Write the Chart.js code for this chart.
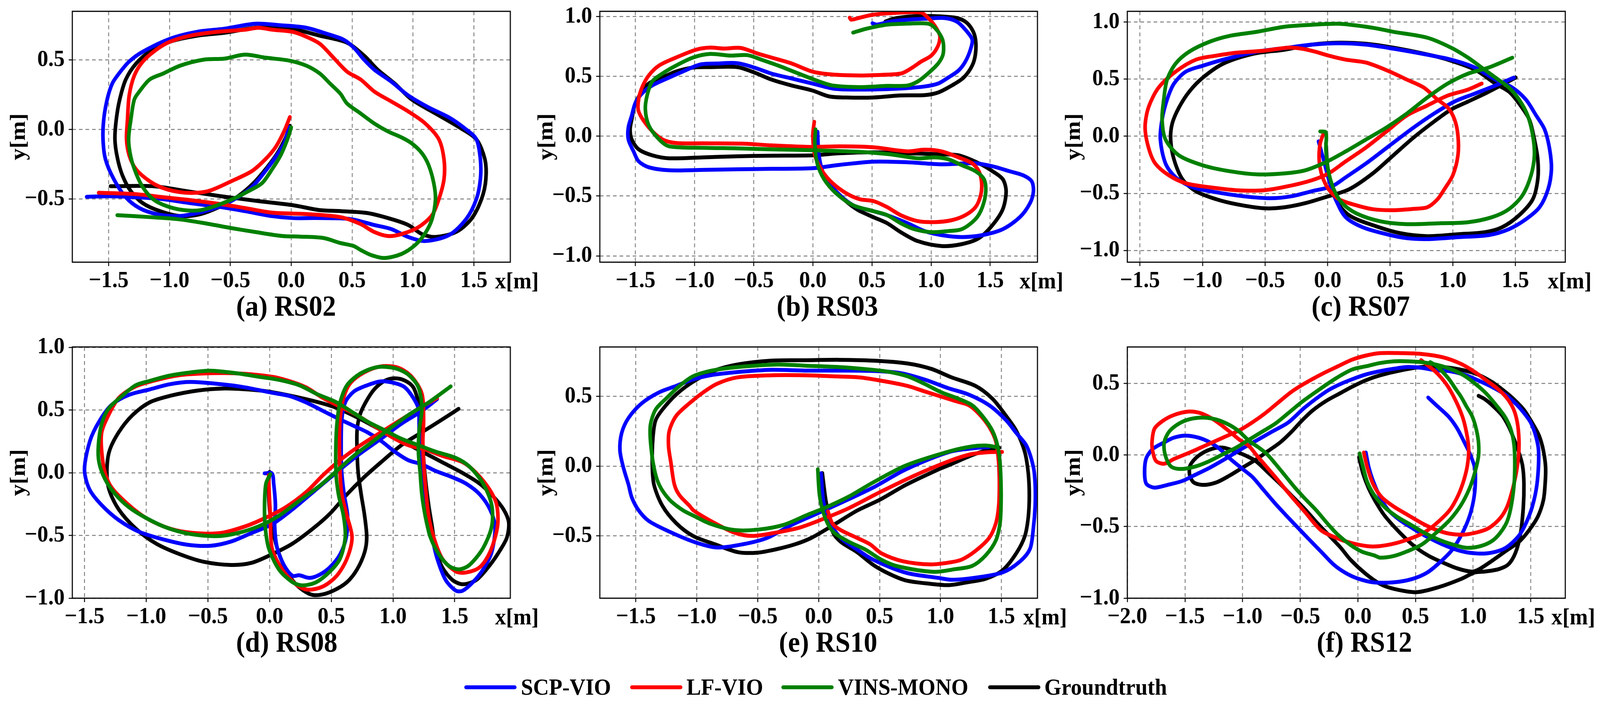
<!DOCTYPE html>
<html>
<head>
<meta charset="utf-8">
<script src="https://cdn.jsdelivr.net/npm/chart.js@4.4.1/dist/chart.umd.min.js"></script>
<style>
  html, body { margin:0; padding:0; background:#ffffff; overflow:hidden; }
  #fig { position:absolute; left:0; top:0; width:4380px; height:1812px; overflow:hidden; background:#fff;
         transform-origin:0 0;
         font-family:'Liberation Serif','Times New Roman',serif; font-weight:bold; color:#000; }
  #fig canvas { position:absolute; }
  .txt { position:absolute; white-space:nowrap; line-height:1; }
  .ttl { font-size:74px; transform:translateX(-50%); }
  .xl { font-size:60px; }
  .lg { font-size:60px; }
  .sw { position:absolute; height:10px; border-radius:5px; }
</style>
</head>
<body>
<div id="fig"></div>
<script>
// ---------------- series names / tick labels ----------------
const SERIES_NAMES = ['SCP-VIO', 'LF-VIO', 'VINS-MONO', 'Groundtruth'];
const PANEL_TITLES = ['(a) RS02', '(b) RS03', '(c) RS07', '(d) RS08', '(e) RS10', '(f) RS12'];
const X_TICKS_STD = [-1.5, -1.0, -0.5, 0.0, 0.5, 1.0, 1.5];
const X_TICKS_F = [-2.0, -1.5, -1.0, -0.5, 0.0, 0.5, 1.0, 1.5];
const Y_TICKS_HALF = [-0.5, 0.0, 0.5];
const Y_TICKS_ONE = [-1.0, -0.5, 0.0, 0.5, 1.0];
const Y_TICKS_F = [-1.0, -0.5, 0.0, 0.5];
const X_LABEL = 'x[m]';
const Y_LABEL = 'y[m]';

// ---------------- (a) RS02 : [x, y] in metres ----------------
const RS02_SCP = [[-0.017,0.019],[-0.059,-0.099],[-0.129,-0.199],[-0.226,-0.314],[-0.324,-0.414],[-0.464,-0.500],[-0.604,-0.557],[-0.772,-0.600],[-0.939,-0.622],[-1.107,-0.607],[-1.247,-0.564],[-1.359,-0.486],[-1.457,-0.357],[-1.526,-0.213],[-1.546,-0.070],[-1.540,0.073],[-1.512,0.216],[-1.470,0.331],[-1.415,0.403],[-1.331,0.489],[-1.219,0.560],[-0.995,0.653],[-0.772,0.703],[-0.548,0.725],[-0.296,0.761],[-0.073,0.749],[0.123,0.732],[0.291,0.689],[0.431,0.646],[0.514,0.589],[0.598,0.503],[0.682,0.431],[0.822,0.345],[0.962,0.245],[1.129,0.159],[1.297,0.087],[1.437,0.001],[1.521,-0.070],[1.554,-0.213],[1.554,-0.357],[1.521,-0.500],[1.437,-0.643],[1.297,-0.758],[1.101,-0.801],[0.962,-0.772],[0.822,-0.715],[0.682,-0.686],[0.486,-0.643],[0.207,-0.636],[0.011,-0.636],[-0.157,-0.622],[-0.380,-0.586],[-0.576,-0.557],[-0.828,-0.529],[-1.051,-0.500],[-1.275,-0.486],[-1.498,-0.479],[-1.680,-0.483]];
const RS02_LF = [[-0.011,0.090],[-0.059,-0.013],[-0.129,-0.127],[-0.212,-0.213],[-0.324,-0.299],[-0.492,-0.371],[-0.660,-0.436],[-0.772,-0.454],[-0.911,-0.450],[-1.051,-0.421],[-1.163,-0.371],[-1.275,-0.285],[-1.331,-0.185],[-1.353,-0.070],[-1.345,0.073],[-1.331,0.245],[-1.289,0.388],[-1.219,0.489],[-1.107,0.575],[-0.995,0.632],[-0.828,0.675],[-0.604,0.703],[-0.380,0.718],[-0.268,0.732],[-0.157,0.718],[0.011,0.703],[0.123,0.668],[0.235,0.617],[0.347,0.517],[0.458,0.417],[0.570,0.360],[0.682,0.274],[0.822,0.202],[0.962,0.130],[1.101,0.044],[1.213,-0.070],[1.255,-0.213],[1.255,-0.357],[1.213,-0.500],[1.157,-0.615],[1.046,-0.701],[0.906,-0.751],[0.794,-0.765],[0.682,-0.736],[0.570,-0.679],[0.403,-0.629],[0.123,-0.607],[-0.157,-0.597],[-0.380,-0.564],[-0.576,-0.536],[-0.828,-0.507],[-1.051,-0.486],[-1.275,-0.464],[-1.582,-0.454]];
const RS02_VINS = [[0.000,0.016],[-0.031,-0.070],[-0.087,-0.185],[-0.157,-0.285],[-0.240,-0.385],[-0.352,-0.443],[-0.464,-0.493],[-0.604,-0.543],[-0.744,-0.579],[-0.883,-0.579],[-1.023,-0.550],[-1.135,-0.500],[-1.219,-0.414],[-1.275,-0.314],[-1.317,-0.199],[-1.336,-0.070],[-1.317,0.073],[-1.289,0.216],[-1.247,0.274],[-1.163,0.360],[-1.051,0.403],[-0.911,0.460],[-0.716,0.503],[-0.548,0.510],[-0.380,0.539],[-0.212,0.517],[-0.017,0.496],[0.123,0.460],[0.235,0.403],[0.319,0.331],[0.403,0.259],[0.458,0.188],[0.570,0.116],[0.682,0.044],[0.794,-0.013],[0.906,-0.056],[0.990,-0.099],[1.074,-0.170],[1.129,-0.256],[1.171,-0.385],[1.185,-0.500],[1.157,-0.643],[1.101,-0.744],[1.018,-0.830],[0.906,-0.894],[0.766,-0.923],[0.654,-0.901],[0.570,-0.865],[0.514,-0.837],[0.403,-0.815],[0.263,-0.779],[0.067,-0.769],[-0.073,-0.765],[-0.296,-0.736],[-0.492,-0.708],[-0.716,-0.672],[-0.939,-0.643],[-1.163,-0.629],[-1.429,-0.615]];
const RS02_GT = [[-0.011,0.027],[-0.045,-0.056],[-0.115,-0.171],[-0.198,-0.271],[-0.310,-0.385],[-0.436,-0.479],[-0.576,-0.550],[-0.744,-0.607],[-0.911,-0.622],[-1.079,-0.586],[-1.219,-0.529],[-1.317,-0.443],[-1.387,-0.328],[-1.429,-0.199],[-1.448,-0.070],[-1.437,0.073],[-1.409,0.216],[-1.359,0.360],[-1.275,0.474],[-1.163,0.560],[-0.995,0.632],[-0.772,0.675],[-0.548,0.696],[-0.296,0.732],[-0.101,0.732],[0.039,0.718],[0.235,0.675],[0.458,0.625],[0.598,0.532],[0.710,0.431],[0.850,0.331],[0.990,0.216],[1.185,0.116],[1.381,0.016],[1.521,-0.070],[1.591,-0.213],[1.599,-0.357],[1.563,-0.500],[1.479,-0.643],[1.353,-0.736],[1.185,-0.772],[1.074,-0.751],[0.962,-0.686],[0.822,-0.643],[0.626,-0.600],[0.403,-0.586],[0.235,-0.579],[0.011,-0.543],[-0.268,-0.514],[-0.576,-0.479],[-0.855,-0.443],[-1.135,-0.407],[-1.484,-0.407]];

// ---------------- (b) RS03 ----------------
const RS03_SCP = [[0.040,0.037],[0.052,-0.160],[0.095,-0.327],[0.196,-0.460],[0.340,-0.577],[0.513,-0.627],[0.628,-0.660],[0.800,-0.727],[0.944,-0.793],[1.088,-0.827],[1.261,-0.843],[1.434,-0.827],[1.607,-0.777],[1.751,-0.677],[1.837,-0.560],[1.866,-0.460],[1.851,-0.377],[1.779,-0.327],[1.664,-0.293],[1.520,-0.252],[1.376,-0.227],[1.088,-0.235],[0.800,-0.218],[0.513,-0.213],[0.225,-0.240],[0.000,-0.268],[-0.351,-0.273],[-0.639,-0.277],[-0.927,-0.282],[-1.215,-0.285],[-1.388,-0.260],[-1.474,-0.210],[-1.517,-0.127],[-1.561,-0.027],[-1.561,0.073],[-1.532,0.173],[-1.503,0.273],[-1.445,0.357],[-1.359,0.423],[-1.215,0.490],[-1.100,0.540],[-0.956,0.598],[-0.812,0.607],[-0.639,0.610],[-0.495,0.573],[-0.351,0.523],[-0.179,0.482],[-0.006,0.440],[0.167,0.398],[0.282,0.390],[0.513,0.390],[0.743,0.398],[0.944,0.415],[1.060,0.440],[1.146,0.490],[1.232,0.548],[1.290,0.623],[1.333,0.723],[1.348,0.807],[1.290,0.890],[1.218,0.957],[1.117,0.987],[0.973,0.982],[0.800,0.973],[0.656,0.957],[0.541,0.932],[0.504,0.943]];
const RS03_LF = [[0.012,0.120],[0.000,0.007],[0.017,-0.160],[0.081,-0.293],[0.167,-0.393],[0.282,-0.477],[0.397,-0.527],[0.513,-0.543],[0.628,-0.593],[0.743,-0.660],[0.887,-0.710],[1.031,-0.718],[1.175,-0.702],[1.290,-0.660],[1.376,-0.593],[1.420,-0.493],[1.428,-0.393],[1.405,-0.293],[1.348,-0.227],[1.232,-0.177],[1.088,-0.127],[0.944,-0.113],[0.800,-0.127],[0.513,-0.093],[0.225,-0.085],[0.000,-0.090],[-0.351,-0.077],[-0.582,-0.063],[-0.927,-0.060],[-1.158,-0.057],[-1.273,-0.027],[-1.388,0.073],[-1.474,0.207],[-1.474,0.307],[-1.445,0.407],[-1.388,0.507],[-1.301,0.590],[-1.157,0.657],[-0.985,0.723],[-0.870,0.740],[-0.754,0.732],[-0.610,0.737],[-0.466,0.690],[-0.351,0.657],[-0.179,0.607],[-0.006,0.540],[0.167,0.515],[0.397,0.507],[0.513,0.510],[0.743,0.523],[0.829,0.565],[0.916,0.623],[1.002,0.673],[1.060,0.757],[1.074,0.840],[1.031,0.923],[0.973,0.990],[0.916,1.032],[0.743,1.032],[0.513,1.015],[0.397,0.990],[0.325,0.973],[0.311,0.990]];
const RS03_VINS = [[0.023,0.057],[0.017,-0.060],[0.037,-0.227],[0.095,-0.360],[0.196,-0.477],[0.340,-0.577],[0.513,-0.627],[0.628,-0.660],[0.743,-0.727],[0.858,-0.777],[1.002,-0.802],[1.146,-0.793],[1.261,-0.777],[1.376,-0.693],[1.434,-0.593],[1.463,-0.460],[1.448,-0.360],[1.376,-0.293],[1.261,-0.243],[1.146,-0.193],[1.031,-0.177],[0.887,-0.185],[0.656,-0.152],[0.369,-0.130],[0.000,-0.118],[-0.351,-0.110],[-0.639,-0.102],[-0.927,-0.097],[-1.215,-0.085],[-1.301,-0.027],[-1.388,0.090],[-1.417,0.223],[-1.402,0.340],[-1.359,0.457],[-1.273,0.523],[-1.157,0.590],[-1.014,0.657],[-0.870,0.687],[-0.697,0.673],[-0.553,0.677],[-0.438,0.640],[-0.294,0.590],[-0.121,0.523],[0.052,0.457],[0.167,0.423],[0.397,0.410],[0.628,0.420],[0.800,0.423],[0.887,0.457],[0.973,0.523],[1.060,0.607],[1.103,0.690],[1.097,0.807],[1.031,0.907],[0.973,0.940],[0.800,0.940],[0.628,0.932],[0.455,0.898],[0.340,0.865]];
const RS03_GT = [[0.029,0.007],[0.052,-0.193],[0.109,-0.360],[0.225,-0.493],[0.369,-0.610],[0.513,-0.677],[0.628,-0.727],[0.743,-0.802],[0.887,-0.877],[1.088,-0.918],[1.261,-0.902],[1.405,-0.852],[1.520,-0.743],[1.607,-0.610],[1.635,-0.460],[1.607,-0.360],[1.520,-0.293],[1.405,-0.227],[1.232,-0.160],[1.088,-0.152],[0.800,-0.143],[0.513,-0.135],[0.225,-0.143],[0.000,-0.160],[-0.351,-0.163],[-0.639,-0.168],[-0.927,-0.177],[-1.215,-0.185],[-1.359,-0.160],[-1.474,-0.110],[-1.532,-0.027],[-1.546,0.057],[-1.532,0.140],[-1.503,0.273],[-1.445,0.373],[-1.388,0.440],[-1.273,0.490],[-1.157,0.540],[-1.014,0.573],[-0.870,0.577],[-0.639,0.577],[-0.495,0.532],[-0.351,0.473],[-0.179,0.423],[-0.006,0.382],[0.138,0.332],[0.282,0.323],[0.513,0.323],[0.743,0.340],[0.944,0.343],[1.060,0.365],[1.175,0.423],[1.276,0.490],[1.348,0.590],[1.376,0.690],[1.376,0.807],[1.348,0.890],[1.290,0.957],[1.204,0.990],[1.031,1.003],[0.858,1.003],[0.685,0.982],[0.613,0.957]];

// ---------------- (c) RS07 ----------------
const RS07_SCP = [[-0.073,-0.045],[-0.033,-0.203],[0.008,-0.377],[0.063,-0.552],[0.144,-0.709],[0.280,-0.797],[0.470,-0.858],[0.633,-0.893],[0.796,-0.901],[1.041,-0.884],[1.285,-0.866],[1.448,-0.814],[1.584,-0.727],[1.693,-0.622],[1.761,-0.465],[1.788,-0.290],[1.774,-0.115],[1.734,0.059],[1.666,0.182],[1.584,0.321],[1.476,0.426],[1.340,0.496],[1.177,0.601],[0.986,0.671],[0.796,0.714],[0.524,0.767],[0.307,0.802],[0.090,0.814],[-0.128,0.802],[-0.318,0.776],[-0.563,0.741],[-0.834,0.671],[-0.997,0.618],[-1.133,0.566],[-1.228,0.461],[-1.283,0.321],[-1.323,0.147],[-1.337,-0.028],[-1.296,-0.238],[-1.215,-0.360],[-1.079,-0.447],[-0.889,-0.491],[-0.671,-0.526],[-0.454,-0.543],[-0.291,-0.526],[-0.128,-0.482],[0.035,-0.438],[0.144,-0.360],[0.307,-0.238],[0.497,-0.080],[0.688,0.077],[0.851,0.199],[1.014,0.304],[1.177,0.374],[1.340,0.444],[1.489,0.514]];
const RS07_LF = [[-0.033,0.024],[-0.060,-0.063],[-0.068,-0.203],[-0.046,-0.342],[0.008,-0.465],[0.090,-0.552],[0.226,-0.604],[0.361,-0.639],[0.524,-0.648],[0.688,-0.636],[0.796,-0.622],[0.878,-0.552],[0.932,-0.465],[1.000,-0.342],[1.041,-0.168],[1.041,0.007],[1.014,0.147],[0.959,0.252],[0.878,0.321],[0.769,0.426],[0.633,0.496],[0.497,0.566],[0.307,0.645],[0.144,0.671],[0.008,0.706],[-0.101,0.741],[-0.209,0.767],[-0.318,0.776],[-0.508,0.749],[-0.726,0.732],[-0.889,0.706],[-1.052,0.671],[-1.215,0.566],[-1.351,0.426],[-1.432,0.252],[-1.459,0.077],[-1.432,-0.098],[-1.378,-0.238],[-1.269,-0.342],[-1.133,-0.412],[-0.943,-0.447],[-0.726,-0.473],[-0.508,-0.473],[-0.318,-0.438],[-0.128,-0.386],[0.008,-0.325],[0.144,-0.220],[0.307,-0.098],[0.470,0.042],[0.633,0.182],[0.796,0.269],[0.959,0.356],[1.122,0.409],[1.231,0.461]];
const RS07_VINS = [[-0.060,0.042],[-0.014,0.033],[-0.014,-0.115],[0.003,-0.290],[0.049,-0.465],[0.117,-0.587],[0.226,-0.674],[0.416,-0.744],[0.633,-0.770],[0.905,-0.762],[1.122,-0.753],[1.313,-0.709],[1.448,-0.639],[1.557,-0.517],[1.625,-0.342],[1.652,-0.168],[1.639,0.007],[1.598,0.182],[1.530,0.321],[1.448,0.426],[1.340,0.514],[1.231,0.601],[1.122,0.688],[0.986,0.776],[0.796,0.863],[0.524,0.915],[0.361,0.950],[0.090,0.985],[-0.128,0.976],[-0.345,0.959],[-0.563,0.915],[-0.780,0.880],[-0.943,0.828],[-1.106,0.741],[-1.215,0.636],[-1.283,0.496],[-1.310,0.321],[-1.323,0.147],[-1.296,-0.028],[-1.188,-0.168],[-0.997,-0.255],[-0.780,-0.307],[-0.563,-0.334],[-0.345,-0.325],[-0.182,-0.299],[-0.019,-0.229],[0.144,-0.133],[0.307,-0.028],[0.470,0.077],[0.633,0.199],[0.796,0.339],[0.959,0.461],[1.122,0.548],[1.285,0.601],[1.476,0.688]];
const RS07_GT = [[-0.014,-0.063],[0.003,-0.290],[0.063,-0.552],[0.171,-0.692],[0.361,-0.779],[0.579,-0.849],[0.796,-0.875],[1.041,-0.858],[1.258,-0.840],[1.394,-0.797],[1.530,-0.692],[1.639,-0.552],[1.679,-0.377],[1.679,-0.203],[1.652,-0.028],[1.611,0.147],[1.530,0.286],[1.448,0.391],[1.340,0.461],[1.177,0.583],[0.959,0.671],[0.769,0.723],[0.524,0.776],[0.307,0.810],[0.090,0.819],[-0.128,0.802],[-0.345,0.758],[-0.590,0.723],[-0.834,0.636],[-0.997,0.514],[-1.106,0.391],[-1.188,0.252],[-1.242,0.112],[-1.255,-0.028],[-1.228,-0.203],[-1.160,-0.377],[-1.052,-0.482],[-0.889,-0.552],[-0.726,-0.596],[-0.508,-0.631],[-0.345,-0.622],[-0.182,-0.587],[-0.019,-0.534],[0.171,-0.465],[0.361,-0.325],[0.524,-0.168],[0.688,-0.010],[0.851,0.129],[0.986,0.234],[1.122,0.304],[1.258,0.374],[1.367,0.435],[1.503,0.514]];

// ---------------- (d) RS08 ----------------
const RS08_SCP = [[-0.041,-0.005],[0.019,-0.005],[0.033,-0.087],[0.047,-0.258],[0.041,-0.428],[0.061,-0.599],[0.116,-0.735],[0.185,-0.821],[0.240,-0.817],[0.323,-0.838],[0.406,-0.812],[0.489,-0.753],[0.571,-0.650],[0.621,-0.514],[0.632,-0.343],[0.604,-0.172],[0.585,-0.002],[0.580,0.169],[0.585,0.425],[0.613,0.561],[0.682,0.647],[0.792,0.698],[0.903,0.729],[1.013,0.715],[1.096,0.681],[1.165,0.596],[1.206,0.510],[1.212,0.340],[1.220,0.169],[1.234,-0.002],[1.261,-0.172],[1.289,-0.343],[1.317,-0.514],[1.358,-0.684],[1.427,-0.855],[1.510,-0.940],[1.565,-0.940],[1.648,-0.872],[1.731,-0.770],[1.800,-0.633],[1.827,-0.428],[1.786,-0.292],[1.703,-0.172],[1.593,-0.087],[1.482,-0.036],[1.344,0.015],[1.234,0.067],[1.123,0.101],[1.013,0.169],[0.903,0.254],[0.792,0.323],[0.682,0.374],[0.571,0.425],[0.433,0.493],[0.295,0.561],[0.157,0.613],[0.019,0.638],[-0.201,0.681],[-0.395,0.706],[-0.643,0.724],[-0.809,0.706],[-0.974,0.664],[-1.140,0.621],[-1.278,0.544],[-1.361,0.442],[-1.444,0.288],[-1.490,0.118],[-1.499,-0.002],[-1.457,-0.138],[-1.361,-0.258],[-1.223,-0.377],[-1.057,-0.471],[-0.864,-0.531],[-0.671,-0.573],[-0.478,-0.582],[-0.312,-0.548],[-0.146,-0.480],[0.019,-0.411],[0.185,-0.292],[0.351,-0.155],[0.516,-0.019],[0.709,0.135],[0.903,0.271],[1.068,0.391],[1.234,0.493],[1.358,0.587]];
const RS08_LF = [[-0.008,-0.019],[-0.003,-0.172],[0.006,-0.343],[0.019,-0.599],[0.102,-0.770],[0.213,-0.889],[0.309,-0.932],[0.433,-0.906],[0.544,-0.821],[0.627,-0.684],[0.668,-0.514],[0.627,-0.343],[0.585,-0.172],[0.571,-0.002],[0.566,0.254],[0.571,0.425],[0.599,0.596],[0.654,0.715],[0.765,0.800],[0.903,0.848],[1.041,0.838],[1.151,0.766],[1.234,0.630],[1.248,0.425],[1.242,0.254],[1.248,0.084],[1.261,-0.087],[1.289,-0.343],[1.330,-0.514],[1.399,-0.684],[1.510,-0.787],[1.593,-0.795],[1.703,-0.753],[1.786,-0.633],[1.847,-0.428],[1.841,-0.258],[1.786,-0.138],[1.675,-0.002],[1.565,0.084],[1.399,0.135],[1.261,0.186],[1.123,0.220],[0.985,0.288],[0.847,0.374],[0.709,0.459],[0.571,0.527],[0.433,0.596],[0.295,0.681],[0.157,0.732],[0.019,0.766],[-0.257,0.792],[-0.533,0.792],[-0.754,0.775],[-0.947,0.732],[-1.085,0.689],[-1.223,0.596],[-1.306,0.459],[-1.361,0.323],[-1.361,0.169],[-1.333,-0.002],[-1.278,-0.121],[-1.140,-0.258],[-1.002,-0.360],[-0.809,-0.445],[-0.616,-0.480],[-0.395,-0.480],[-0.201,-0.428],[-0.036,-0.360],[0.130,-0.275],[0.295,-0.155],[0.433,-0.019],[0.571,0.101],[0.737,0.220],[0.903,0.323],[1.068,0.425],[1.234,0.527],[1.358,0.596]];
const RS08_VINS = [[0.006,-0.010],[-0.030,-0.087],[-0.041,-0.258],[-0.036,-0.428],[-0.008,-0.599],[0.075,-0.770],[0.185,-0.872],[0.268,-0.898],[0.378,-0.872],[0.489,-0.787],[0.571,-0.684],[0.613,-0.514],[0.599,-0.343],[0.558,-0.172],[0.538,-0.002],[0.538,0.254],[0.549,0.425],[0.571,0.561],[0.627,0.698],[0.737,0.792],[0.875,0.843],[1.013,0.834],[1.123,0.783],[1.206,0.681],[1.234,0.510],[1.212,0.340],[1.206,0.169],[1.220,-0.002],[1.234,-0.172],[1.261,-0.343],[1.303,-0.514],[1.372,-0.650],[1.455,-0.744],[1.537,-0.770],[1.620,-0.735],[1.731,-0.599],[1.800,-0.428],[1.800,-0.258],[1.731,-0.087],[1.620,0.049],[1.510,0.118],[1.344,0.169],[1.206,0.220],[1.068,0.271],[0.930,0.340],[0.792,0.408],[0.682,0.476],[0.544,0.561],[0.378,0.630],[0.240,0.698],[0.075,0.741],[-0.091,0.766],[-0.257,0.792],[-0.478,0.814],[-0.643,0.800],[-0.809,0.775],[-0.974,0.732],[-1.085,0.698],[-1.195,0.613],[-1.306,0.510],[-1.361,0.391],[-1.388,0.220],[-1.383,0.084],[-1.333,-0.053],[-1.250,-0.172],[-1.140,-0.275],[-1.002,-0.360],[-0.836,-0.437],[-0.643,-0.488],[-0.422,-0.505],[-0.257,-0.480],[-0.091,-0.428],[0.075,-0.343],[0.240,-0.224],[0.406,-0.104],[0.544,0.015],[0.682,0.135],[0.820,0.237],[0.958,0.340],[1.123,0.459],[1.289,0.561],[1.468,0.689]];
const RS08_GT = [[0.000,0.007],[-0.008,-0.087],[-0.003,-0.258],[0.019,-0.428],[0.061,-0.599],[0.130,-0.770],[0.213,-0.889],[0.323,-0.966],[0.406,-0.974],[0.516,-0.940],[0.627,-0.872],[0.709,-0.770],[0.770,-0.633],[0.787,-0.514],[0.770,-0.343],[0.742,-0.172],[0.718,-0.002],[0.709,0.169],[0.709,0.340],[0.731,0.459],[0.778,0.561],[0.847,0.664],[0.930,0.732],[1.013,0.753],[1.096,0.735],[1.165,0.681],[1.206,0.561],[1.228,0.425],[1.239,0.254],[1.250,0.084],[1.267,-0.087],[1.289,-0.258],[1.317,-0.428],[1.344,-0.599],[1.399,-0.753],[1.482,-0.855],[1.565,-0.889],[1.675,-0.855],[1.786,-0.735],[1.869,-0.616],[1.924,-0.514],[1.938,-0.394],[1.896,-0.292],[1.813,-0.189],[1.703,-0.087],[1.565,-0.002],[1.399,0.084],[1.234,0.169],[1.068,0.254],[0.903,0.340],[0.709,0.442],[0.516,0.527],[0.295,0.587],[0.019,0.643],[-0.174,0.664],[-0.367,0.672],[-0.588,0.655],[-0.809,0.613],[-0.974,0.561],[-1.112,0.459],[-1.223,0.323],[-1.300,0.169],[-1.319,-0.002],[-1.300,-0.138],[-1.223,-0.292],[-1.085,-0.445],[-0.919,-0.565],[-0.726,-0.650],[-0.533,-0.710],[-0.312,-0.735],[-0.146,-0.718],[0.019,-0.650],[0.185,-0.565],[0.351,-0.445],[0.489,-0.326],[0.627,-0.172],[0.765,-0.036],[0.903,0.084],[1.068,0.220],[1.234,0.323],[1.399,0.425],[1.532,0.510]];

// ---------------- (e) RS10 ----------------
const RS10_SCP = [[0.020,-0.051],[0.040,-0.255],[0.087,-0.394],[0.181,-0.514],[0.315,-0.597],[0.449,-0.671],[0.717,-0.764],[0.985,-0.801],[1.092,-0.814],[1.288,-0.799],[1.511,-0.761],[1.651,-0.684],[1.735,-0.592],[1.763,-0.439],[1.777,-0.285],[1.777,-0.132],[1.763,-0.009],[1.707,0.144],[1.623,0.236],[1.539,0.328],[1.399,0.436],[1.232,0.512],[1.064,0.558],[0.869,0.620],[0.673,0.666],[0.450,0.681],[0.170,0.684],[-0.109,0.684],[-0.388,0.689],[-0.668,0.673],[-0.891,0.650],[-1.031,0.620],[-1.170,0.574],[-1.310,0.528],[-1.450,0.451],[-1.561,0.344],[-1.617,0.236],[-1.631,0.113],[-1.603,-0.009],[-1.561,-0.132],[-1.534,-0.224],[-1.478,-0.316],[-1.394,-0.393],[-1.226,-0.469],[-1.025,-0.542],[-0.837,-0.583],[-0.623,-0.560],[-0.422,-0.514],[-0.221,-0.421],[-0.007,-0.338],[0.181,-0.264],[0.449,-0.153],[0.717,-0.023],[1.075,0.102],[1.288,0.129],[1.399,0.137]];
const RS10_LF = [[0.076,-0.324],[0.114,-0.412],[0.181,-0.458],[0.315,-0.514],[0.422,-0.560],[0.516,-0.625],[0.690,-0.681],[0.918,-0.704],[1.075,-0.690],[1.176,-0.669],[1.288,-0.607],[1.399,-0.515],[1.455,-0.408],[1.478,-0.285],[1.483,-0.132],[1.478,0.021],[1.455,0.175],[1.399,0.282],[1.316,0.374],[1.232,0.436],[1.120,0.466],[1.008,0.497],[0.869,0.535],[0.729,0.574],[0.561,0.604],[0.338,0.635],[0.115,0.643],[-0.109,0.650],[-0.388,0.650],[-0.668,0.635],[-0.835,0.589],[-0.947,0.528],[-1.059,0.451],[-1.170,0.359],[-1.226,0.252],[-1.232,0.144],[-1.212,0.021],[-1.184,-0.132],[-1.142,-0.209],[-1.059,-0.285],[-1.025,-0.319],[-0.864,-0.403],[-0.690,-0.477],[-0.543,-0.500],[-0.355,-0.477],[-0.154,-0.440],[0.047,-0.375],[0.248,-0.301],[0.516,-0.181],[0.784,-0.069],[1.075,0.037],[1.250,0.085],[1.400,0.100],[1.506,0.101]];
const RS10_VINS = [[-0.007,-0.023],[0.007,-0.208],[0.034,-0.319],[0.074,-0.412],[0.127,-0.477],[0.248,-0.542],[0.382,-0.597],[0.516,-0.671],[0.650,-0.718],[0.944,-0.757],[1.120,-0.738],[1.260,-0.715],[1.372,-0.638],[1.455,-0.531],[1.489,-0.408],[1.497,-0.285],[1.497,-0.132],[1.489,0.021],[1.469,0.144],[1.427,0.252],[1.344,0.359],[1.260,0.436],[1.148,0.482],[1.008,0.528],[0.869,0.589],[0.729,0.643],[0.589,0.673],[0.450,0.689],[0.173,0.709],[-0.106,0.719],[-0.330,0.727],[-0.528,0.719],[-0.723,0.704],[-0.891,0.681],[-1.031,0.643],[-1.142,0.574],[-1.254,0.482],[-1.338,0.405],[-1.380,0.298],[-1.380,0.175],[-1.352,-0.009],[-1.310,-0.132],[-1.226,-0.239],[-1.115,-0.316],[-1.025,-0.356],[-0.891,-0.412],[-0.690,-0.458],[-0.489,-0.454],[-0.288,-0.421],[-0.087,-0.347],[0.047,-0.301],[0.248,-0.218],[0.449,-0.116],[0.717,0.005],[1.075,0.106],[1.260,0.141],[1.372,0.147],[1.455,0.137]];
const RS10_GT = [[0.030,-0.050],[0.060,-0.250],[0.114,-0.468],[0.181,-0.542],[0.315,-0.616],[0.449,-0.708],[0.583,-0.773],[0.717,-0.819],[0.918,-0.843],[1.075,-0.852],[1.232,-0.830],[1.371,-0.807],[1.511,-0.745],[1.623,-0.623],[1.693,-0.500],[1.721,-0.362],[1.729,-0.209],[1.721,-0.055],[1.693,0.098],[1.623,0.252],[1.539,0.359],[1.427,0.482],[1.288,0.574],[1.092,0.635],[0.925,0.696],[0.729,0.735],[0.450,0.755],[0.170,0.761],[-0.109,0.758],[-0.388,0.755],[-0.668,0.727],[-0.863,0.681],[-1.031,0.604],[-1.170,0.512],[-1.282,0.405],[-1.338,0.328],[-1.360,0.206],[-1.366,0.021],[-1.352,-0.132],[-1.282,-0.285],[-1.170,-0.408],[-1.031,-0.500],[-0.851,-0.560],[-0.664,-0.616],[-0.502,-0.620],[-0.355,-0.597],[-0.194,-0.560],[-0.060,-0.514],[0.114,-0.426],[0.315,-0.319],[0.502,-0.241],[0.717,-0.134],[0.985,-0.023],[1.075,0.009],[1.250,0.075],[1.400,0.120],[1.483,0.132]];

// ---------------- (f) RS12 ----------------
const RS12_SCP = [[0.070,0.017],[0.095,-0.086],[0.131,-0.178],[0.192,-0.292],[0.264,-0.384],[0.361,-0.453],[0.471,-0.510],[0.592,-0.568],[0.737,-0.625],[0.895,-0.671],[1.040,-0.688],[1.162,-0.682],[1.283,-0.648],[1.404,-0.556],[1.489,-0.419],[1.538,-0.281],[1.562,-0.143],[1.568,0.029],[1.544,0.132],[1.501,0.224],[1.453,0.281],[1.380,0.350],[1.283,0.419],[1.162,0.476],[1.040,0.522],[0.919,0.562],[0.798,0.585],[0.677,0.591],[0.555,0.608],[0.434,0.614],[0.313,0.602],[0.192,0.585],[0.070,0.562],[-0.051,0.528],[-0.165,0.490],[-0.276,0.442],[-0.461,0.331],[-0.602,0.228],[-0.744,0.163],[-0.886,0.098],[-1.028,0.033],[-1.141,-0.023],[-1.283,-0.088],[-1.425,-0.144],[-1.524,-0.182],[-1.652,-0.209],[-1.765,-0.228],[-1.836,-0.200],[-1.850,-0.116],[-1.836,-0.023],[-1.779,0.042],[-1.680,0.088],[-1.595,0.121],[-1.496,0.135],[-1.382,0.121],[-1.283,0.088],[-1.198,0.042],[-1.113,-0.023],[-1.000,-0.098],[-0.914,-0.154],[-0.815,-0.247],[-0.716,-0.340],[-0.631,-0.414],[-0.532,-0.498],[-0.432,-0.582],[-0.319,-0.675],[-0.206,-0.768],[-0.106,-0.824],[-0.007,-0.861],[0.131,-0.889],[0.313,-0.889],[0.471,-0.866],[0.604,-0.820],[0.725,-0.740],[0.822,-0.659],[0.907,-0.545],[0.968,-0.430],[1.004,-0.315],[1.019,-0.201],[1.016,-0.097],[0.980,-0.006],[0.919,0.097],[0.859,0.189],[0.786,0.269],[0.677,0.350],[0.610,0.401]];
const RS12_LF = [[0.052,0.017],[0.082,-0.086],[0.131,-0.201],[0.204,-0.292],[0.313,-0.361],[0.434,-0.419],[0.555,-0.476],[0.677,-0.522],[0.798,-0.550],[0.919,-0.556],[1.040,-0.539],[1.137,-0.510],[1.234,-0.442],[1.295,-0.361],[1.344,-0.235],[1.380,-0.097],[1.398,0.040],[1.392,0.178],[1.368,0.281],[1.332,0.350],[1.283,0.407],[1.210,0.464],[1.113,0.522],[1.016,0.579],[0.895,0.636],[0.737,0.682],[0.555,0.705],[0.374,0.711],[0.192,0.711],[0.070,0.694],[-0.051,0.665],[-0.170,0.620],[-0.300,0.570],[-0.460,0.500],[-0.574,0.442],[-0.688,0.368],[-0.801,0.293],[-0.914,0.228],[-1.028,0.172],[-1.170,0.121],[-1.311,0.070],[-1.453,0.019],[-1.595,-0.028],[-1.680,-0.061],[-1.751,-0.042],[-1.779,0.023],[-1.786,0.088],[-1.765,0.182],[-1.694,0.237],[-1.595,0.279],[-1.467,0.303],[-1.368,0.293],[-1.269,0.256],[-1.184,0.209],[-1.099,0.154],[-1.028,0.107],[-0.943,0.061],[-0.886,0.005],[-0.815,-0.061],[-0.716,-0.154],[-0.602,-0.265],[-0.461,-0.396],[-0.319,-0.526],[-0.177,-0.582],[-0.035,-0.619],[0.131,-0.639],[0.313,-0.619],[0.471,-0.579],[0.592,-0.533],[0.701,-0.464],[0.798,-0.384],[0.871,-0.281],[0.919,-0.178],[0.950,-0.075],[0.962,0.040],[0.943,0.155],[0.907,0.269],[0.846,0.384],[0.774,0.487],[0.677,0.579],[0.549,0.662]];
const RS12_VINS = [[0.016,0.011],[0.046,-0.086],[0.082,-0.189],[0.143,-0.281],[0.228,-0.361],[0.337,-0.430],[0.458,-0.487],[0.580,-0.545],[0.701,-0.591],[0.822,-0.625],[0.943,-0.648],[1.065,-0.636],[1.162,-0.602],[1.234,-0.545],[1.295,-0.464],[1.332,-0.350],[1.356,-0.201],[1.362,-0.063],[1.356,0.063],[1.332,0.166],[1.283,0.258],[1.210,0.338],[1.113,0.430],[1.016,0.499],[0.919,0.556],[0.798,0.602],[0.677,0.631],[0.555,0.648],[0.434,0.654],[0.313,0.654],[0.192,0.642],[0.070,0.619],[-0.051,0.596],[-0.200,0.530],[-0.361,0.442],[-0.489,0.368],[-0.602,0.293],[-0.716,0.219],[-0.829,0.163],[-0.943,0.107],[-1.056,0.051],[-1.170,0.005],[-1.311,-0.051],[-1.425,-0.084],[-1.538,-0.098],[-1.623,-0.079],[-1.673,0.005],[-1.680,0.088],[-1.637,0.163],[-1.552,0.219],[-1.453,0.251],[-1.340,0.261],[-1.226,0.247],[-1.113,0.209],[-1.028,0.163],[-0.943,0.098],[-0.858,0.051],[-0.787,0.005],[-0.716,-0.061],[-0.631,-0.144],[-0.546,-0.228],[-0.461,-0.303],[-0.361,-0.386],[-0.262,-0.480],[-0.177,-0.554],[-0.064,-0.628],[0.035,-0.675],[0.149,-0.703],[0.192,-0.717],[0.313,-0.705],[0.434,-0.671],[0.555,-0.625],[0.677,-0.545],[0.798,-0.453],[0.895,-0.350],[0.968,-0.235],[1.016,-0.120],[1.047,-0.006],[1.047,0.086],[1.028,0.178],[0.992,0.270],[0.943,0.338],[0.895,0.407],[0.846,0.464],[0.798,0.522],[0.737,0.579],[0.677,0.625],[0.628,0.648]];
const RS12_GT = [[1.047,0.413],[1.101,0.390],[1.162,0.350],[1.247,0.281],[1.307,0.201],[1.356,0.109],[1.398,0.017],[1.429,-0.075],[1.441,-0.201],[1.435,-0.373],[1.410,-0.556],[1.368,-0.682],[1.307,-0.763],[1.222,-0.797],[1.101,-0.814],[1.016,-0.820],[0.895,-0.866],[0.701,-0.923],[0.507,-0.958],[0.313,-0.935],[0.192,-0.900],[0.070,-0.831],[-0.064,-0.731],[-0.149,-0.647],[-0.248,-0.563],[-0.347,-0.480],[-0.461,-0.377],[-0.574,-0.284],[-0.688,-0.191],[-0.787,-0.116],[-0.886,-0.042],[-0.971,-0.005],[-1.056,0.023],[-1.170,0.051],[-1.269,0.042],[-1.382,-0.005],[-1.453,-0.070],[-1.460,-0.135],[-1.425,-0.191],[-1.340,-0.209],[-1.226,-0.191],[-1.113,-0.144],[-0.999,-0.088],[-0.886,-0.033],[-0.787,0.023],[-0.673,0.088],[-0.574,0.163],[-0.489,0.237],[-0.390,0.312],[-0.276,0.377],[-0.149,0.433],[-0.051,0.476],[0.070,0.522],[0.192,0.556],[0.374,0.591],[0.555,0.614],[0.737,0.614],[0.919,0.591],[1.040,0.562],[1.162,0.510],[1.259,0.453],[1.344,0.396],[1.441,0.315],[1.513,0.224],[1.574,0.132],[1.610,0.029],[1.629,-0.086],[1.625,-0.201],[1.610,-0.315],[1.562,-0.430],[1.489,-0.522],[1.404,-0.602],[1.283,-0.671],[1.162,-0.740],[1.040,-0.803],[0.980,-0.814],[0.859,-0.791],[0.737,-0.751],[0.616,-0.705],[0.507,-0.648],[0.410,-0.579],[0.313,-0.499],[0.228,-0.419],[0.155,-0.327],[0.095,-0.235],[0.046,-0.132],[0.010,-0.017]];

// ---------------- axis ranges (data units) ----------------
const X_RANGES = [[-1.798, 1.800], [-1.802, 1.900], [-1.601, 1.899], [-1.599, 1.951], [-1.796, 1.796], [-2.000, 1.800]];
const Y_RANGES = [[-0.953, 0.850], [-1.053, 1.043], [-1.103, 1.094], [-1.000, 1.003], [-0.946, 0.853], [-1.000, 0.754]];

// ---------------- styling & layout (not data) ----------------
const SERIES_COLORS = ['#0000ff', '#ff0000', '#008000', '#000000'];
const DRAW_ORDER = [2, 1, 0, 3];           // lower = drawn on top
const FONT_FAMILY = "'Liberation Serif', 'Times New Roman', serif";
const DESIGN_W = 4380, DESIGN_H = 1812;
const Y_AXIS_W = 198, X_AXIS_H = 100, PAD_TOP = 29, PAD_RIGHT = 30;
const LAYOUT = [
  { box: [198, 29, 1199, 642],  xlab: 1355, tc: 783 },
  { box: [1642, 29, 1198, 642], xlab: 2791, tc: 2265 },
  { box: [3086, 29, 1199, 642], xlab: 4237, tc: 3725 },
  { box: [198, 888, 1199, 643], xlab: 1355, tc: 785 },
  { box: [1642, 888, 1198, 643], xlab: 2801, tc: 2267 },
  { box: [3086, 888, 1199, 643], xlab: 4247, tc: 3735 }
];
const PANEL_SERIES = [
  [RS02_SCP, RS02_LF, RS02_VINS, RS02_GT],
  [RS03_SCP, RS03_LF, RS03_VINS, RS03_GT],
  [RS07_SCP, RS07_LF, RS07_VINS, RS07_GT],
  [RS08_SCP, RS08_LF, RS08_VINS, RS08_GT],
  [RS10_SCP, RS10_LF, RS10_VINS, RS10_GT],
  [RS12_SCP, RS12_LF, RS12_VINS, RS12_GT]
];
const PANEL_XTICKS = [X_TICKS_STD, X_TICKS_STD, X_TICKS_STD, X_TICKS_STD, X_TICKS_STD, X_TICKS_F];
const PANEL_YTICKS = [Y_TICKS_HALF, Y_TICKS_ONE, Y_TICKS_ONE, Y_TICKS_ONE, Y_TICKS_HALF, Y_TICKS_F];

const fmt = v => (Math.abs(v) < 1e-9 ? 0 : v).toFixed(1).replace('-', '\u2212');

// map the 4380x1812 design onto the full viewport the page actually gets
const VW = window.innerWidth || document.documentElement.clientWidth || DESIGN_W;
const VH = window.innerHeight || document.documentElement.clientHeight || DESIGN_H;
const SX = VW / DESIGN_W, SY = VH / DESIGN_H;
const fig = document.getElementById('fig');
fig.style.transform = 'scale(' + SX + ',' + SY + ')';
const RENDER_DPR = (window.devicePixelRatio || 1) * Math.max(SX, SY);

const framePlugin = {
  id: 'frame',
  afterDatasetsDraw(chart) {
    const { ctx, chartArea: a } = chart;
    ctx.save();
    ctx.strokeStyle = '#000';
    ctx.lineWidth = 3;
    ctx.strokeRect(a.left, a.top, a.right - a.left, a.bottom - a.top);
    ctx.restore();
  }
};

const tickFont = { family: FONT_FAMILY, size: 60, weight: 'bold' };

PANEL_TITLES.forEach((title, i) => {
  const [L, T, W, H] = LAYOUT[i].box;
  const cw = Y_AXIS_W + W + PAD_RIGHT, ch = PAD_TOP + H + X_AXIS_H;
  const cv = document.createElement('canvas');
  cv.style.left = (L - Y_AXIS_W) + 'px';
  cv.style.top = (T - PAD_TOP) + 'px';
  cv.style.width = cw + 'px';
  cv.style.height = ch + 'px';
  cv.width = cw; cv.height = ch;
  fig.appendChild(cv);

  const xt = PANEL_XTICKS[i], yt = PANEL_YTICKS[i];
  new Chart(cv, {
    type: 'scatter',
    data: {
      datasets: SERIES_NAMES.map((name, k) => ({
        label: name,
        data: PANEL_SERIES[i][k].map(([x, y]) => ({ x, y })),
        showLine: true,
        borderColor: SERIES_COLORS[k],
        backgroundColor: SERIES_COLORS[k],
        borderWidth: 10,
        pointRadius: 0,
        pointHoverRadius: 0,
        tension: 0.3,
        borderCapStyle: 'round',
        borderJoinStyle: 'round',
        order: DRAW_ORDER[k]
      }))
    },
    options: {
      responsive: false,
      devicePixelRatio: RENDER_DPR,
      animation: false,
      events: [],
      layout: { padding: { left: 0, top: PAD_TOP, right: PAD_RIGHT, bottom: 0 } },
      plugins: { legend: { display: false }, tooltip: { enabled: false }, title: { display: false } },
      scales: {
        x: {
          type: 'linear', position: 'bottom',
          min: X_RANGES[i][0], max: X_RANGES[i][1],
          afterBuildTicks: ax => { ax.ticks = xt.map(v => ({ value: v })); },
          afterFit: s => { s.height = X_AXIS_H; s.paddingLeft = 0; s.paddingRight = 0; },
          ticks: { autoSkip: false, maxRotation: 0, minRotation: 0, padding: 2, color: '#000',
                   font: tickFont, callback: v => fmt(v) },
          grid: { color: '#808080', lineWidth: 2.5, drawTicks: true, tickLength: 10,
                  tickColor: '#000', tickWidth: 2.5 },
          border: { display: false, dash: [10, 8] }
        },
        y: {
          type: 'linear', position: 'left',
          min: Y_RANGES[i][0], max: Y_RANGES[i][1],
          afterBuildTicks: ax => { ax.ticks = yt.map(v => ({ value: v })); },
          afterFit: s => { s.width = Y_AXIS_W; s.paddingTop = 0; s.paddingBottom = 0; },
          ticks: { autoSkip: false, padding: 11, color: '#000', font: tickFont, callback: v => fmt(v) },
          grid: { color: '#808080', lineWidth: 2.5, drawTicks: true, tickLength: 10,
                  tickColor: '#000', tickWidth: 2.5 },
          border: { display: false, dash: [10, 8] },
          title: { display: true, text: Y_LABEL, color: '#000', font: tickFont,
                   padding: { top: 16, bottom: 0 } }
        }
      }
    },
    plugins: [framePlugin]
  });

  const ttl = document.createElement('div');
  ttl.className = 'txt ttl';
  ttl.textContent = title;
  ttl.style.left = LAYOUT[i].tc + 'px';
  ttl.style.top = (T + H + 75) + 'px';
  fig.appendChild(ttl);

  const xl = document.createElement('div');
  xl.className = 'txt xl';
  xl.textContent = X_LABEL;
  xl.style.left = LAYOUT[i].xlab + 'px';
  xl.style.top = (T + H + 17) + 'px';
  fig.appendChild(xl);
});

// shared legend
const LEG_SWATCH_X = [1271, 1725, 2139, 2705];
const LEG_TEXT_X = [1426, 1879, 2294, 2859];
SERIES_NAMES.forEach((name, k) => {
  const sw = document.createElement('div');
  sw.className = 'sw';
  sw.style.left = LEG_SWATCH_X[k] + 'px';
  sw.style.top = '1754px';
  sw.style.width = '143px';
  sw.style.background = SERIES_COLORS[k];
  fig.appendChild(sw);
  const tx = document.createElement('div');
  tx.className = 'txt lg';
  tx.textContent = name;
  tx.style.left = LEG_TEXT_X[k] + 'px';
  tx.style.top = '1728px';
  fig.appendChild(tx);
});
</script>
</body>
</html>
